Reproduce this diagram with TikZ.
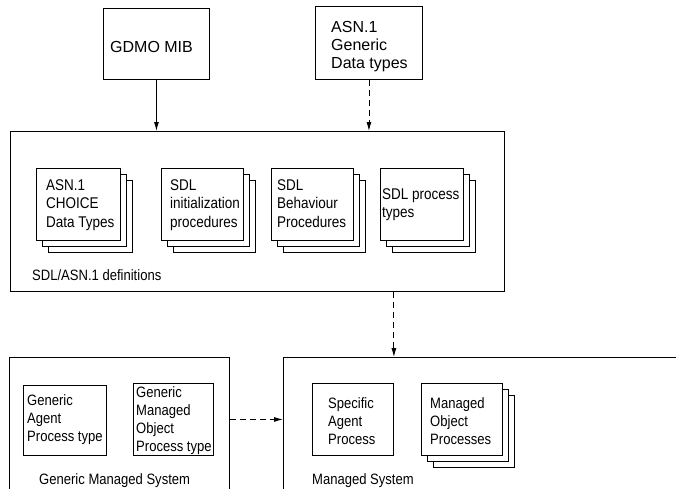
\documentclass[tikz,border=0pt]{standalone}
\usepackage{fontspec}
\setmainfont[FakeStretch=0.87]{Liberation Sans}
\newfontfamily\widesans{Liberation Sans}
\usetikzlibrary{arrows.meta,calc}

% a pile of three sheets: name, x, y (top left of front sheet), width, height
\newcommand{\pilebox}[5]{%
  \node[box,minimum width=#4pt,minimum height=#5pt] (#1-b2) at (#2+12,#3+12) {};
  \node[box,minimum width=#4pt,minimum height=#5pt] (#1-b1) at (#2+6,#3+6) {};
  \node[box,minimum width=#4pt,minimum height=#5pt] (#1) at (#2,#3) {};
}

\begin{document}
\begin{tikzpicture}[x=1pt,y=-1pt,
  box/.style={draw,line width=0.9pt,fill=white,inner sep=0pt,anchor=north west},
  txt/.style={anchor=north west,inner sep=0pt,align=left,
              font=\fontsize{15}{18}\selectfont},
  midtxt/.style={txt,font=\fontsize{15.5}{18.5}\selectfont},
  toptxt/.style={txt,font=\widesans\fontsize{16}{18}\selectfont},
  arr/.style={line width=0.9pt,-{Latex[length=9pt,width=5pt]}},
  darr/.style={arr,dash pattern=on 6pt off 4pt}]

\useasboundingbox (0,0) rectangle (676,488);
\begin{scope}
\clip (0,0) rectangle (676,488);

% sources
\node[box,minimum width=106pt,minimum height=71pt] (gdmo) at (103,8) {};
\node[toptxt] (gdmo-t) at (110,41) {GDMO MIB};
\node[box,minimum width=107pt,minimum height=73pt] (asn) at (315,6) {};
\node[toptxt] (asn-t) at (331,21) {ASN.1\\Generic\\Data types};

% SDL/ASN.1 definitions
\node[box,minimum width=494pt,minimum height=160pt] (sdl) at (10,131) {};
\pilebox{choice}{36}{168}{84}{72}
\pilebox{init}{161}{168}{82}{72}
\pilebox{behav}{271}{168}{82}{72}
\pilebox{ptypes}{380}{168}{83}{72}
\node[midtxt] (choice-t) at (46,179) {ASN.1\\CHOICE\\Data Types};
\node[midtxt] (init-t) at (170,179) {SDL\\initialization\\procedures};
\node[midtxt] (behav-t) at (277,179) {SDL\\Behaviour\\Procedures};
\node[midtxt] (ptypes-t) at (382,188) {SDL process\\types};
\node[txt] (sdl-t) at (32,269) {SDL/ASN.1 definitions};

% generic managed system
\node[box,minimum width=220pt,minimum height=200pt] (gms) at (9,357) {};
\node[box,minimum width=83pt,minimum height=70pt] (gap) at (23,385) {};
\node[box,minimum width=80pt,minimum height=72pt] (gmo) at (133,383) {};
\node[txt] (gap-t) at (27,394) {Generic\\Agent\\Process type};
\node[txt] (gmo-t) at (136,386) {Generic\\Managed\\Object\\Process type};
\node[txt] (gms-t) at (39,473) {Generic Managed System};

% managed system
\node[box,minimum width=420pt,minimum height=200pt] (ms) at (283,357) {};
\node[box,minimum width=81pt,minimum height=72pt] (sap) at (312,383) {};
\pilebox{mop}{421}{383}{81}{72}
\node[txt] (sap-t) at (328,397) {Specific\\Agent\\Process};
\node[txt] (mop-t) at (430,397) {Managed\\Object\\Processes};
\node[txt] (ms-t) at (312,473) {Managed System};

% connectors
\draw[arr] (gdmo.south) -- (gdmo.south |- sdl.north);
\draw[darr] (asn.south) -- (asn.south |- sdl.north);
\draw[darr] (sdl.south -| sap.east) -- (ms.north -| sap.east);
\draw[darr] (gms.east |- gmo.center) -- (ms.west |- gmo.center);
\end{scope}
\end{tikzpicture}
\end{document}
